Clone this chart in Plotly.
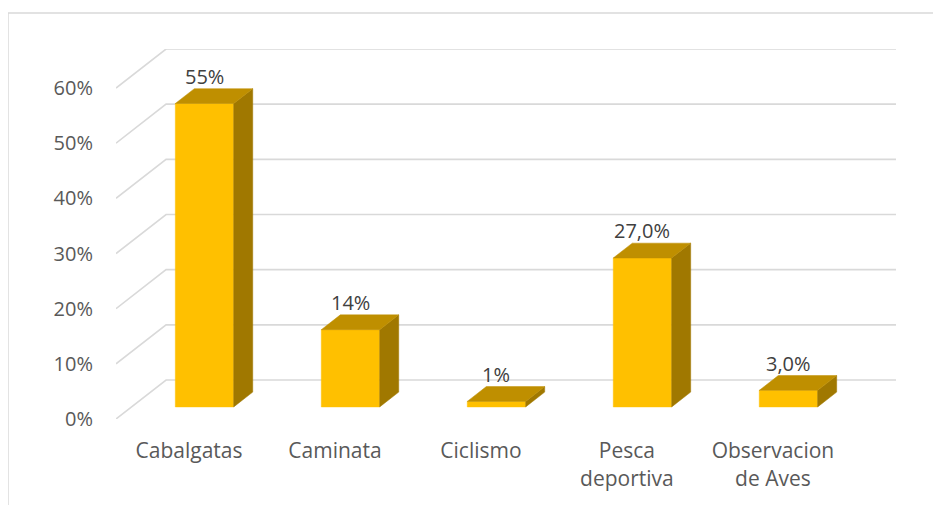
import plotly.graph_objects as go

# ---- data ----
categories = ["Cabalgatas", "Caminata", "Ciclismo", "Pesca deportiva", "Observacion de Aves"]
category_ticktext = ["Cabalgatas", "Caminata", "Ciclismo", "Pesca<br>deportiva", "Observacion<br>de Aves"]
values = [55, 14, 1, 27, 3]
value_labels = ["55%", "14%", "1%", "27,0%", "3,0%"]
y_ticks = [0, 10, 20, 30, 40, 50, 60]
y_ticktext = ["0%", "10%", "20%", "30%", "40%", "50%", "60%"]

# ---- 3D projection settings (in axis units) ----
DEPTH_X = 0.343     # horizontal shift of the back wall, in category units
DEPTH_Y = 7.07      # vertical shift of the back wall, in % units
BAR_FRONT = 0.31    # bar front face depth fraction
BAR_BACK = 0.69     # bar back face depth fraction
HALF_W = 0.2        # half width of a bar

FRONT_COL = "#FFC000"
TOP_COL = "#BF8F00"
SIDE_COL = "#A07800"
GRID_COL = "#D9D9D9"
FONT = "Open Sans"

n = len(categories)
x_min, x_max = -0.5, n - 0.5

def proj(x, v, d):
    return x + d * DEPTH_X, v + d * DEPTH_Y

fig = go.Figure()

# gridlines: diagonal on the side wall + horizontal on the back wall
for v in y_ticks:
    p0 = proj(x_min, v, 0)
    p1 = proj(x_min, v, 1)
    p2 = proj(x_max, v, 1)
    fig.add_trace(go.Scatter(
        x=[p0[0], p1[0], p2[0]], y=[p0[1], p1[1], p2[1]],
        mode="lines", line=dict(color=GRID_COL, width=1.6),
        hoverinfo="skip", showlegend=False))

def face(pts, color):
    xs = [p[0] for p in pts] + [pts[0][0]]
    ys = [p[1] for p in pts] + [pts[0][1]]
    fig.add_trace(go.Scatter(
        x=xs, y=ys, mode="lines", fill="toself", fillcolor=color,
        line=dict(color=color, width=0.5), hoverinfo="skip", showlegend=False))

for i, val in enumerate(values):
    xl, xr = i - HALF_W, i + HALF_W
    # front face
    face([proj(xl, 0, BAR_FRONT), proj(xr, 0, BAR_FRONT),
          proj(xr, val, BAR_FRONT), proj(xl, val, BAR_FRONT)], FRONT_COL)
    # side face
    face([proj(xr, 0, BAR_FRONT), proj(xr, 0, BAR_BACK),
          proj(xr, val, BAR_BACK), proj(xr, val, BAR_FRONT)], SIDE_COL)
    # top face
    face([proj(xl, val, BAR_FRONT), proj(xr, val, BAR_FRONT),
          proj(xr, val, BAR_BACK), proj(xl, val, BAR_BACK)], TOP_COL)
    # data label
    lx, _ = proj(i, val, BAR_FRONT)
    _, ly = proj(i, val, BAR_BACK)
    fig.add_annotation(x=lx, y=ly, text=value_labels[i], showarrow=False,
                       xanchor="center", yanchor="bottom", yshift=-3,
                       font=dict(family=FONT, size=20, color="#404040"))

# chart border (top and left visible)
fig.add_shape(type="rect", xref="paper", yref="paper",
              x0=-0.1385, x1=1.3, y0=-0.5, y1=1.0973,
              line=dict(color="#D9D9D9", width=1.5), fillcolor="rgba(0,0,0,0)")

fig.update_layout(
    width=941, height=505,
    margin=dict(l=108, r=53, t=41, b=94),
    paper_bgcolor="white", plot_bgcolor="white",
    font=dict(family=FONT, size=20, color="#595959"),
    showlegend=False,
    xaxis=dict(range=[x_min, x_max + DEPTH_X], tickvals=list(range(n)),
               ticktext=category_ticktext, showgrid=False, zeroline=False,
               showline=False, ticks="outside", ticklen=13,
               tickcolor="rgba(0,0,0,0)",
               tickfont=dict(family=FONT, size=21, color="#595959")),
    yaxis=dict(range=[0, 60 + DEPTH_Y], tickvals=y_ticks, ticktext=y_ticktext,
               showgrid=False, zeroline=False, showline=False,
               ticks="outside", ticklen=18, tickcolor="rgba(0,0,0,0)",
               tickfont=dict(family=FONT, size=20, color="#595959")),
)

fig.write_html("out.html")
